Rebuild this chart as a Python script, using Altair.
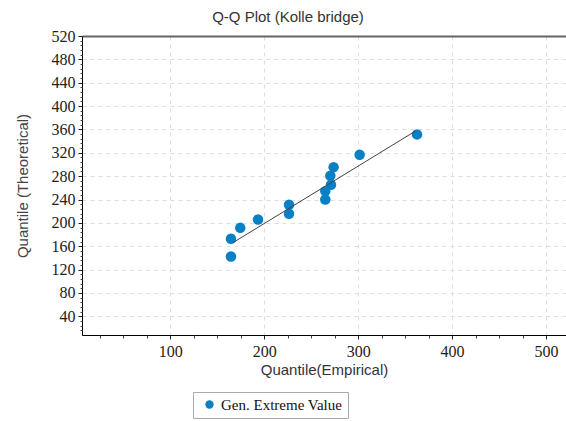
import altair as alt
import pandas as pd

# Data
empirical = [164.6, 164.6, 174.5, 193.4, 226.4, 226.4, 265.0, 265.0, 271.1, 270.4, 273.9, 301.6, 362.7]
theoretical = [172.7, 142.3, 191.5, 205.8, 231.0, 215.5, 240.0, 254.3, 265.2, 280.7, 295.4, 316.7, 351.5]
fit_x = [167.4, 360.9]
fit_y = [166.8, 357.1]
series_name = "Gen. Extreme Value"

x_major = [100, 200, 300, 400, 500]
y_major = list(range(40, 521, 40))
x_minor = [v for v in range(25, 521, 25) if v % 100 != 0]
y_minor = [v for v in range(16, 521, 8) if v % 40 != 0]

pts = pd.DataFrame({"emp": empirical, "theo": theoretical, "series": [series_name] * len(empirical)})
fit = pd.DataFrame({"emp": fit_x, "theo": fit_y})

XDOM = [6, 521.3]
YDOM = [8, 520]
LABEL_FONT = "Liberation Serif"
TITLE_FONT = "Liberation Sans"
GRID = dict(grid=True, gridColor="#dedede", gridDash=[4, 4], gridWidth=1)

xs = alt.Scale(domain=XDOM, nice=False, zero=False)
ys = alt.Scale(domain=YDOM, nice=False, zero=False)

points = alt.Chart(pts).mark_point(filled=True, shape="circle", size=110, opacity=1).encode(
    x=alt.X("emp:Q", scale=xs, axis=alt.Axis(
        orient="bottom", values=x_major, title="Quantile(Empirical)", titleFont=TITLE_FONT,
        titleFontSize=15, titleFontWeight="normal", titleColor="#333333", titlePadding=3,
        labelFont=LABEL_FONT, labelFontSize=16, labelColor="#222222", labelPadding=4,
        tickSize=4, tickColor="#222222", domainColor="#000000", domainWidth=1, **GRID)),
    y=alt.Y("theo:Q", scale=ys, axis=alt.Axis(
        orient="left", values=y_major, title="Quantile (Theoretical)", titleFont=TITLE_FONT,
        titleFontSize=15, titleFontWeight="normal", titleColor="#444444", titlePadding=21,
        labelFont=LABEL_FONT, labelFontSize=16, labelColor="#222222", labelPadding=3,
        tickSize=4, tickColor="#222222", domainColor="#000000", domainWidth=1, **GRID)),
    color=alt.Color("series:N", scale=alt.Scale(range=["#0a80c4"]), legend=alt.Legend(
        title=None, orient="none", legendX=111, legendY=356, direction="horizontal",
        labelFont=LABEL_FONT, labelFontSize=15, labelColor="#111111",
        symbolType="circle", symbolSize=70, symbolStrokeWidth=0,
        strokeColor="#aaaaaa", fillColor="#ffffff", padding=5, symbolOffset=4)),
)

line = alt.Chart(fit).mark_line(color="#444444", strokeWidth=1).encode(
    x=alt.X("emp:Q", scale=xs, axis=None),
    y=alt.Y("theo:Q", scale=ys, axis=None),
)

minor = alt.Chart(fit).mark_point(opacity=0).encode(
    x=alt.X("emp:Q", scale=xs, axis=alt.Axis(
        orient="bottom", values=x_minor, labels=False, title=None, grid=False,
        domain=False, tickSize=3, tickColor="#444444")),
    y=alt.Y("theo:Q", scale=ys, axis=alt.Axis(
        orient="left", values=y_minor, labels=False, title=None, grid=False,
        domain=False, tickSize=2, tickColor="#444444")),
)

topline = alt.Chart(fit).mark_point(opacity=0).encode(
    x=alt.X("emp:Q", scale=xs, axis=alt.Axis(
        orient="top", labels=False, ticks=False, title=None, grid=False,
        domain=True, domainColor="#666666", domainWidth=2)),
    y=alt.Y("theo:Q", scale=ys, axis=None),
)

chart = alt.layer(points, line, minor, topline).resolve_axis(
    x="independent", y="independent"
).properties(
    width=484,
    height=299,
    title=alt.TitleParams("Q-Q Plot (Kolle bridge)", font=TITLE_FONT, fontSize=15,
                          fontWeight="normal", color="#333333", anchor="middle",
                          dx=-36, offset=3),
    autosize=alt.AutoSizeParams(type="none"),
    padding={"left": 82, "top": 36, "right": 0, "bottom": 86},
).configure_view(stroke=None).configure_axis(
    labelFont=LABEL_FONT
).configure(background="#ffffff")

chart.save("out.html", embed_options={"renderer": "svg", "actions": False})
